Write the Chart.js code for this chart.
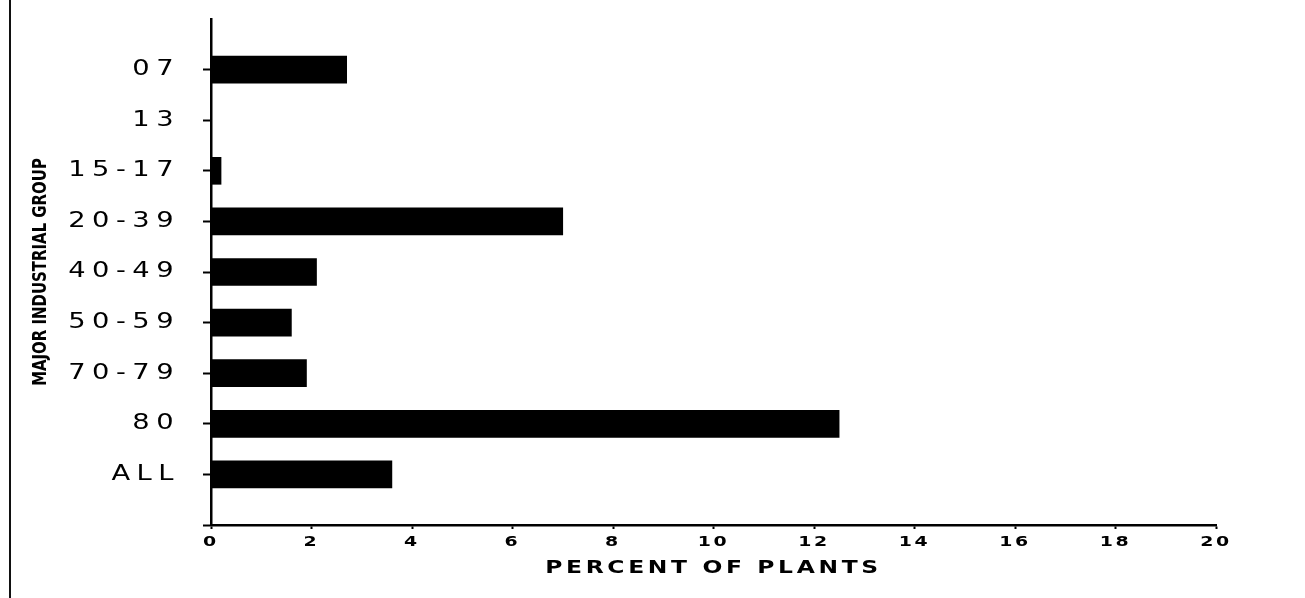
<!DOCTYPE html>
<html>
<head>
<meta charset="utf-8">
<script src="https://cdn.jsdelivr.net/npm/chart.js@4.4.1/dist/chart.umd.min.js"></script>
<style>
  html, body { margin: 0; padding: 0; background: #fff; }
  #wrap { position: relative; width: 1305px; height: 598px; }
  #frame { position: absolute; left: 9px; top: 0; width: 2px; height: 598px; background: #111; }
  canvas { position: absolute; left: 0; top: 0; }
</style>
</head>
<body>
<div id="wrap">
  <canvas id="c" width="1305" height="598"></canvas>
  <div id="frame"></div>
</div>
<script>
const categories = ['07', '13', '15-17', '20-39', '40-49', '50-59', '70-79', '80', 'ALL'];
const percentOfPlants = [2.7, 0, 0.2, 7.0, 2.1, 1.6, 1.9, 12.5, 3.6];
const xTicks = [0, 2, 4, 6, 8, 10, 12, 14, 16, 18, 20];
const xTitle = 'PERCENT OF PLANTS';
const yTitle = 'MAJOR INDUSTRIAL GROUP';

// blank slots above and below the groups, as on the original axis
const labels = [''].concat(categories, ['']);
const values = [null].concat(percentOfPlants, [null]);

// draw text wider/narrower (stretch along the text + letter spacing) like plotter lettering
function stretched(fn, sx, sp) {
  return function () {
    const c = this.ctx;
    const origFill = CanvasRenderingContext2D.prototype.fillText;
    c.save();
    c.letterSpacing = sp;
    c.fillText = function (t, x, y, mw) {
      c.save();
      c.translate(x, y);
      c.scale(sx, 1);
      if (mw === undefined) origFill.call(c, t, 0, 0);
      else origFill.call(c, t, 0, 0, mw / sx);
      c.restore();
    };
    try { fn.apply(this, arguments); }
    finally { delete c.fillText; c.restore(); }
  };
}
function patch(scale, lab, tit) {
  if (scale.__patched) return;
  scale.__patched = true;
  scale.drawLabels = stretched(scale.drawLabels, lab[0], lab[1]);
  scale.drawTitle = stretched(scale.drawTitle, tit[0], tit[1]);
}

new Chart(document.getElementById('c'), {
  type: 'bar',
  data: {
    labels: labels,
    datasets: [{
      data: values,
      backgroundColor: '#000',
      borderWidth: 0,
      barThickness: 27
    }]
  },
  options: {
    indexAxis: 'y',
    responsive: false,
    animation: false,
    devicePixelRatio: 1,
    layout: { padding: { left: 20, top: 19, right: 89, bottom: 10 } },
    plugins: { legend: { display: false }, tooltip: { enabled: false } },
    scales: {
      x: {
        type: 'linear',
        min: 0, max: 20,
        afterBuildTicks: (s) => { s.ticks = xTicks.map(v => ({ value: v })); },
        afterFit: (s) => { s.height = 63; s.paddingLeft = 0; s.paddingRight = 0; patch(s, [1.35, '2px'], [1.3, '2.8px']); },
        grid: { display: true, drawOnChartArea: false, drawTicks: true, tickLength: 4, tickWidth: 2, tickColor: '#000' },
        border: { display: true, color: '#000', width: 2.5 },
        ticks: { color: '#000', padding: 5, maxRotation: 0, font: { family: 'DejaVu Sans', size: 14, weight: 'bold' } },
        title: { display: true, text: xTitle, color: '#000', padding: { top: 0, bottom: 9 }, font: { family: 'DejaVu Sans', size: 18, weight: 'bold' } }
      },
      y: {
        type: 'category',
        offset: false,
        afterFit: (s) => { s.width = 191; s.paddingTop = 0; s.paddingBottom = 0; patch(s, [1.3, '5px'], [0.83, '0px']); },
        grid: {
          display: true, offset: false, drawOnChartArea: false, drawTicks: true, tickLength: 8, tickWidth: 2,
          tickColor: (ctx) => (ctx.index === 0 ? 'rgba(0,0,0,0)' : '#000')
        },
        border: { display: true, color: '#000', width: 2.5 },
        ticks: { color: '#000', padding: 23, autoSkip: false, font: { family: 'DejaVu Sans', size: 21 } },
        title: { display: true, text: yTitle, color: '#000', padding: { top: 9, bottom: 0 }, font: { family: "'Liberation Sans Narrow', 'DejaVu Sans Condensed', sans-serif", size: 20, weight: 'bold' } }
      }
    }
  }
});
</script>
</body>
</html>
